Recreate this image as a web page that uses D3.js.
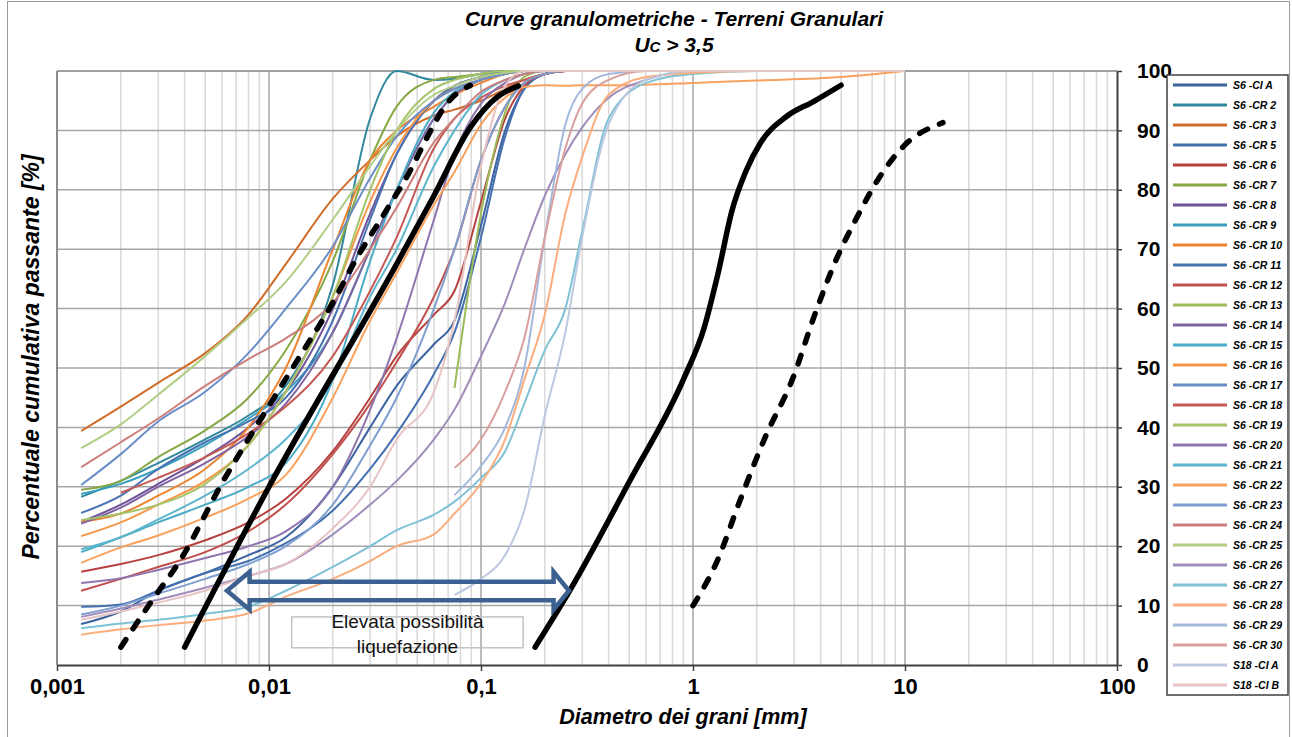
<!DOCTYPE html>
<html><head><meta charset="utf-8">
<script src="https://cdn.jsdelivr.net/npm/d3@7"></script>
<style>
html,body{margin:0;padding:0;background:#fff;}
svg text{font-family:"Liberation Sans",Arial,sans-serif;}
</style></head>
<body>
<svg id="chart" width="1292" height="737"></svg>
<script>
// ---------- DATA ----------
const N = null;
// common sieve / hydrometer diameters [mm]
const diam = [0.0013, 0.002, 0.003, 0.005, 0.008, 0.012, 0.02, 0.03, 0.04, 0.06, 0.075, 0.1, 0.13, 0.16, 0.2, 0.25, 0.3, 0.4, 0.6, 1, 2, 5, 10];

const seriesNames = ["S6 -CI A","S6 -CR 2","S6 -CR 3","S6 -CR 5","S6 -CR 6","S6 -CR 7","S6 -CR 8","S6 -CR 9","S6 -CR 10","S6 -CR 11","S6 -CR 12","S6 -CR 13","S6 -CR 14","S6 -CR 15","S6 -CR 16","S6 -CR 17","S6 -CR 18","S6 -CR 19","S6 -CR 20","S6 -CR 21","S6 -CR 22","S6 -CR 23","S6 -CR 24","S6 -CR 25","S6 -CR 26","S6 -CR 27","S6 -CR 28","S6 -CR 29","S6 -CR 30","S18 -CI A","S18 -CI B"];
const seriesColors = ["#3B64A0","#31899E","#D06D2A","#4470B0","#B5423F","#86A844","#6E539A","#3AA0BE","#EC8431","#4674B3","#C0504D","#9BBB59","#8064A2","#4BACC6","#F79646","#6A8FC8","#C55A57","#A5C46A","#8E75AE","#5DB5CE","#F9A25E","#7F9FD1","#CC7E7C","#B2CD84","#A08DBB","#80C2D5","#FAAD7D","#A3B8DC","#D9A09F","#BCC8E0","#E8C3C3"];

// percent passing for each series (aligned with diam)
const S6_CIA  = [6.9, 9, 12.5, 15.5, 18.5, 21.5, 30, 40, 47, 54, 58, 74, 90, 97, 99.5, 100, 100, 100, 100, 100, 100, 100, 100];
const S6_CR2  = [28.3, 31, 34, 38, 42, 47, 64, 92, 100, 98.5, 98.7, 99.5, 100, 100, 100, 100, 100, 100, 100, 100, 100, 100, 100];
const S6_CR3  = [39.4, 43.5, 47.5, 52.5, 59, 67.5, 78.5, 85, 89, 92.5, 93.5, 95, 97, 98.5, 99.5, 100, 100, 100, 100, 100, 100, 100, 100];
const S6_CR5  = [9.8, 10.2, 12.5, 15.5, 17.5, 20.5, 26, 33, 39, 49, 56, 72, 89, 97, 99.5, 100, 100, 100, 100, 100, 100, 100, 100];
const S6_CR6  = [15.7, 17, 18.5, 21, 24, 28, 36, 45, 52, 59, 63, 78, 92, 97.5, 99.5, 100, 100, 100, 100, 100, 100, 100, 100];
const S6_CR7  = [29.5, 31, 35, 39.5, 45, 53, 68, 85, 94, 98.5, 99, 99.5, 100, 100, 100, 100, 100, 100, 100, 100, 100, 100, 100];
const S6_CR8  = [24.1, 27, 30.5, 35, 40, 46, 60, 76, 86, 95, 97.5, 99, 100, 100, 100, 100, 100, 100, 100, 100, 100, 100, 100];
const S6_CR9  = [28.8, 30.5, 33, 37, 41.5, 46, 56, 70, 80, 92, 96, 98.5, 99.5, 100, 100, 100, 100, 100, 100, 100, 100, 100, 100];
const S6_CR10 = [24.1, 25.5, 28.5, 33, 40, 50, 70, 85, 90, 94, 96, 98, 99.5, 100, 100, 100, 100, 100, 100, 100, 100, 100, 100];
const S6_CR11 = [25.6, 28.5, 33, 37.5, 41, 45, 58, 75, 86, 95, 97.5, 99, 100, 100, 100, 100, 100, 100, 100, 100, 100, 100, 100];
const S6_CR12 = [12.5, 14.5, 16.5, 19, 22.5, 27, 35.5, 44, 51, 62, 70, 85, 94, 98, 99.5, 100, 100, 100, 100, 100, 100, 100, 100];
const S6_CR13 = [N, N, N, N, N, N, N, N, N, N, 46.6, 76, 93, 99, 100, 100, 100, 100, 100, 100, 100, 100, 100];
const S6_CR14 = [23.8, 26.5, 30, 34, 38.5, 44, 56, 70, 80, 92, 96, 98.5, 99.5, 100, 100, 100, 100, 100, 100, 100, 100, 100, 100];
const S6_CR15 = [19, 21.5, 24, 27, 30, 34, 48, 68, 80, 93, 96.5, 98.5, 99.5, 100, 100, 100, 100, 100, 100, 100, 100, 100, 100];
const S6_CR16 = [21.7, 24, 27, 31, 37, 46, 62, 78, 87, 95, 97, 98.5, 99.5, 100, 100, 100, 100, 100, 100, 100, 100, 100, 100];
const S6_CR17 = [30.3, 35.5, 41, 46, 52.5, 60, 70.5, 82, 89, 95, 97, 98.5, 99.5, 100, 100, 100, 100, 100, 100, 100, 100, 100, 100];
const S6_CR18 = [N, 29, 31.5, 35, 39, 43.5, 52, 63, 72, 87, 92, 95.5, 97.5, 98.5, 99.5, 100, 100, 100, 100, 100, 100, 100, 100];
const S6_CR19 = [24.4, 25.5, 27, 30.5, 37, 46, 62, 80, 90, 97, 98.5, 99.5, 100, 100, 100, 100, 100, 100, 100, 100, 100, 100, 100];
const S6_CR20 = [13.8, 14.6, 16, 18, 20, 22.5, 30, 43, 55, 75, 86, 94.5, 98, 99.5, 100, 100, 100, 100, 100, 100, 100, 100, 100];
const S6_CR21 = [19.5, 21.5, 24.5, 28.5, 33, 38, 48, 62, 70, 84, 90, 96, 98.5, 99.5, 100, 100, 100, 100, 100, 100, 100, 100, 100];
const S6_CR22 = [17.2, 19.8, 21.8, 24.8, 28, 32, 45, 58, 66, 77.5, 83, 91, 95.5, 97.3, 97.6, 97.5, 97.6, 97.6, 97.7, 98, 98.4, 99, 100];
const S6_CR23 = [8.5, 10, 12, 14.5, 17, 20, 27, 37, 45, 60, 70, 85, 94, 98, 99.5, 100, 100, 100, 100, 100, 100, 100, 100];
const S6_CR24 = [33.3, 37.5, 41.5, 47, 51.5, 55, 61, 70, 77, 88, 92, 96.5, 98.5, 99.5, 100, 100, 100, 100, 100, 100, 100, 100, 100];
const S6_CR25 = [36.5, 40.5, 45.5, 52, 58.5, 64.5, 75, 84, 90, 96, 97.5, 99, 99.7, 100, 100, 100, 100, 100, 100, 100, 100, 100, 100];
const S6_CR26 = [8.1, 9.5, 11, 13, 15, 17, 22, 27, 31, 38, 43, 52, 61, 70, 79, 86, 90.5, 95.5, 98.5, 100, 100, 100, 100];
const S6_CR27 = [6.2, 7, 7.6, 8.6, 9.8, 12.5, 16.5, 20, 22.7, 25.3, 27.5, 31.5, 36, 44, 53, 60, 73, 92, 98, 99.5, 100, 100, 100];
const S6_CR28 = [5.1, 6, 6.7, 7.5, 8.7, 11.5, 14.5, 17.5, 20, 22, 25.5, 30.6, 38, 48, 59, 76, 85.5, 96, 99, 99.7, 100, 100, 100];
const S6_CR29 = [N, N, N, N, N, N, N, N, N, N, 28.6, 33.5, 40, 50, 72, 91, 97, 99.5, 100, 100, 100, 100, 100];
const S6_CR30 = [N, N, N, N, N, N, N, N, N, N, 33.2, 38, 46, 55, 72, 87, 94.5, 98.5, 100, 100, 100, 100, 100];
const S18_CIA = [N, N, N, N, N, N, N, N, N, N, 11.8, 14.5, 18.5, 26, 42, 56, 72, 91, 98.5, 100, 100, 100, 100];
const S18_CIB = [7.6, 9, 10.5, 12.5, 15, 17, 23, 30, 38, 46, 58, 84, 97.5, 100, 100, 100, 100, 100, 100, 100, 100, 100, 100];

const seriesValues = [S6_CIA,S6_CR2,S6_CR3,S6_CR5,S6_CR6,S6_CR7,S6_CR8,S6_CR9,S6_CR10,S6_CR11,S6_CR12,S6_CR13,S6_CR14,S6_CR15,S6_CR16,S6_CR17,S6_CR18,S6_CR19,S6_CR20,S6_CR21,S6_CR22,S6_CR23,S6_CR24,S6_CR25,S6_CR26,S6_CR27,S6_CR28,S6_CR29,S6_CR30,S18_CIA,S18_CIB];

// liquefaction limit curves (black)
const limDashL_d = [0.002, 0.00275, 0.0039, 0.006, 0.0093, 0.014, 0.02, 0.025, 0.035, 0.046, 0.056, 0.069, 0.089];
const limDashL_p = [3, 10.4, 18.2, 30.6, 41.8, 52, 61, 67.5, 76, 83, 89, 94.5, 97.6];
const limSolidL_d = [0.004, 0.01, 0.04, 0.06, 0.089, 0.119, 0.15];
const limSolidL_p = [3, 30, 67.5, 79, 90.5, 95.6, 97.5];
const limSolidR_d = [0.18, 0.263, 0.505, 0.907, 1.127, 1.31, 1.53, 1.78, 2.09, 2.75, 3.72, 4.99];
const limSolidR_p = [3, 12.6, 31.1, 48.3, 56.7, 65.8, 76.6, 83.2, 88, 92.3, 94.9, 97.6];
const limDashR_d = [1, 1.3, 1.67, 2.2, 2.96, 3.72, 4.73, 5.94, 7.54, 9.89, 15.1];
const limDashR_p = [10, 17.5, 27.8, 38.5, 48.3, 58.6, 68.2, 75.4, 82, 87.4, 91.3];

const xTicks = [0.001, 0.01, 0.1, 1, 10, 100];
const yTicks = [0, 10, 20, 30, 40, 50, 60, 70, 80, 90, 100];

// annotation (double arrow + text box), in data units
const arrowX = [0.00634, 0.0081, 0.22, 0.26];   // left tip, left head base, right head base, right tip
const arrowY = [9.3, 10.9, 12.5, 14.0, 15.7];   // head bottom, shaft bottom, centre, shaft top, head top
const boxX = [0.0128, 0.158];
const boxY = [2.9, 8.1];

// ---------- DRAW ----------
const svg = d3.select("#chart");
const x = d3.scaleLog().domain([0.001, 100]).range([57, 1117]);
const y = d3.scaleLinear().domain([0, 100]).range([665, 71]);

svg.append("rect").attr("x", 7.5).attr("y", 1.5).attr("width", 1282).attr("height", 745)
  .attr("fill", "#fff").attr("stroke", "#9a9a9a").attr("stroke-width", 1);

const plot = svg.append("g");
const minor = [];
for (let e = -3; e < 2; e++) for (let k = 2; k <= 9; k++) minor.push(k * Math.pow(10, e));
plot.selectAll(".minor").data(minor).join("line")
  .attr("x1", d => x(d)).attr("x2", d => x(d)).attr("y1", y(100)).attr("y2", y(0))
  .attr("stroke", "#d9d9d9").attr("stroke-width", 1.5);
plot.selectAll(".major").data(xTicks.slice(1, -1)).join("line")
  .attr("x1", d => x(d)).attr("x2", d => x(d)).attr("y1", y(100)).attr("y2", y(0))
  .attr("stroke", "#a6a6a6").attr("stroke-width", 1.5);
plot.selectAll(".hgrid").data(yTicks.slice(1, -1)).join("line")
  .attr("x1", x(0.001)).attr("x2", x(100)).attr("y1", d => y(d)).attr("y2", d => y(d))
  .attr("stroke", "#a6a6a6").attr("stroke-width", 1.5);
plot.append("line").attr("x1", x(0.001)).attr("x2", x(100)).attr("y1", y(100)).attr("y2", y(100))
  .attr("stroke", "#a0a0a0").attr("stroke-width", 2);
plot.append("line").attr("x1", x(0.001)).attr("x2", x(0.001)).attr("y1", y(100)).attr("y2", y(0))
  .attr("stroke", "#8c8c8c").attr("stroke-width", 2);

svg.append("clipPath").attr("id", "clip").append("rect")
  .attr("x", x(0.001)).attr("y", y(100) - 2).attr("width", x(100) - x(0.001)).attr("height", y(0) - y(100) + 2);

const line = d3.line().defined(d => d[1] !== null).x(d => x(d[0])).y(d => y(d[1])).curve(d3.curveMonotoneX);
const curves = svg.append("g").attr("clip-path", "url(#clip)");
seriesValues.forEach((vals, i) => {
  const pts = diam.map((d, j) => [d, vals[j]]);
  curves.append("path").attr("d", line(pts)).attr("fill", "none")
    .attr("stroke", seriesColors[i]).attr("stroke-width", 2).attr("stroke-linejoin", "round");
});

const limits = [
  [limDashL_d, limDashL_p, true], [limSolidL_d, limSolidL_p, false],
  [limSolidR_d, limSolidR_p, false], [limDashR_d, limDashR_p, true]
];
limits.forEach(([ds, ps, dashed]) => {
  const pts = ds.map((d, j) => [d, ps[j]]);
  curves.append("path").attr("d", line(pts)).attr("fill", "none")
    .attr("stroke", "#000").attr("stroke-width", 5.5).attr("stroke-linecap", "round")
    .attr("stroke-dasharray", dashed ? "9,13" : null);
});

const fmt = d => String(d).replace(".", ",");
const xAxis = svg.append("g").attr("transform", `translate(0,${y(0)})`)
  .call(d3.axisBottom(x).tickValues(xTicks).tickFormat(fmt).tickSize(6).tickSizeOuter(0).tickPadding(7));
xAxis.select(".domain").attr("stroke", "#404040").attr("stroke-width", 2);
xAxis.selectAll(".tick line").attr("stroke", "#404040").attr("stroke-width", 1.5);
xAxis.selectAll("text").attr("font-size", 22).attr("font-weight", "bold").attr("fill", "#000")
  .attr("font-family", "'Liberation Sans', Arial, sans-serif");

const yAxis = svg.append("g").attr("transform", `translate(${x(100)},0)`)
  .call(d3.axisRight(y).tickValues(yTicks).tickSize(5).tickSizeOuter(0).tickPadding(15));
yAxis.select(".domain").attr("stroke", "#404040").attr("stroke-width", 2);
yAxis.selectAll(".tick line").attr("stroke", "#404040").attr("stroke-width", 1.5);
yAxis.selectAll("text").attr("font-size", 21).attr("font-weight", "bold").attr("fill", "#000")
  .attr("font-family", "'Liberation Sans', Arial, sans-serif");

const ap = [
  [arrowX[0], arrowY[2]], [arrowX[1], arrowY[4]], [arrowX[1], arrowY[3]], [arrowX[2], arrowY[3]],
  [arrowX[2], arrowY[4]], [arrowX[3], arrowY[2]], [arrowX[2], arrowY[0]], [arrowX[2], arrowY[1]],
  [arrowX[1], arrowY[1]], [arrowX[1], arrowY[0]]
];
svg.append("path").attr("d", "M" + ap.map(p => `${x(p[0])},${y(p[1])}`).join("L") + "Z")
  .attr("fill", "none").attr("stroke", "#3C6090").attr("stroke-width", 4.5).attr("stroke-linejoin", "miter");

svg.append("rect").attr("x", x(boxX[0])).attr("y", y(boxY[1])).attr("width", x(boxX[1]) - x(boxX[0]))
  .attr("height", y(boxY[0]) - y(boxY[1])).attr("fill", "none").attr("stroke", "#c4c4c4").attr("stroke-width", 1.5);
const bx = (x(boxX[0]) + x(boxX[1])) / 2;
svg.append("text").attr("x", bx).attr("y", 628).attr("text-anchor", "middle")
  .attr("font-family", "Lato, 'Open Sans', sans-serif").attr("font-size", 19).attr("fill", "#111").text("Elevata possibilità");
svg.append("text").attr("x", bx).attr("y", 653).attr("text-anchor", "middle")
  .attr("font-family", "Lato, 'Open Sans', sans-serif").attr("font-size", 19).attr("fill", "#111").text("liquefazione");

svg.append("text").attr("x", 674).attr("y", 26).attr("text-anchor", "middle")
  .attr("font-size", 21).attr("font-weight", "bold").attr("font-style", "italic")
  .text("Curve granulometriche - Terreni Granulari");
const t2 = svg.append("text").attr("x", 674).attr("y", 52).attr("text-anchor", "middle")
  .attr("font-size", 21).attr("font-weight", "bold").attr("font-style", "italic");
t2.append("tspan").text("U");
t2.append("tspan").attr("font-size", 15).text("C");
t2.append("tspan").text(" > 3,5");

svg.append("text").attr("x", 683).attr("y", 724).attr("text-anchor", "middle")
  .attr("font-size", 21.5).attr("font-weight", "bold").attr("font-style", "italic")
  .text("Diametro dei grani [mm]");
svg.append("text").attr("transform", "translate(39,357) rotate(-90)").attr("text-anchor", "middle")
  .attr("font-size", 23).attr("font-weight", "bold").attr("font-style", "italic")
  .text("Percentuale cumulativa passante [%]");

const lg = svg.append("g");
lg.append("rect").attr("x", 1167).attr("y", 75).attr("width", 121).attr("height", 620)
  .attr("fill", "#fff").attr("stroke", "#404040").attr("stroke-width", 1.5);
seriesNames.forEach((n, i) => {
  const yy = 85 + i * 20;
  lg.append("line").attr("x1", 1173).attr("x2", 1227).attr("y1", yy).attr("y2", yy)
    .attr("stroke", seriesColors[i]).attr("stroke-width", 3);
  lg.append("text").attr("x", 1233).attr("y", yy + 4).attr("font-size", 10.5)
    .attr("font-weight", "bold").attr("font-style", "italic").text(n);
});
</script>
</body></html>
